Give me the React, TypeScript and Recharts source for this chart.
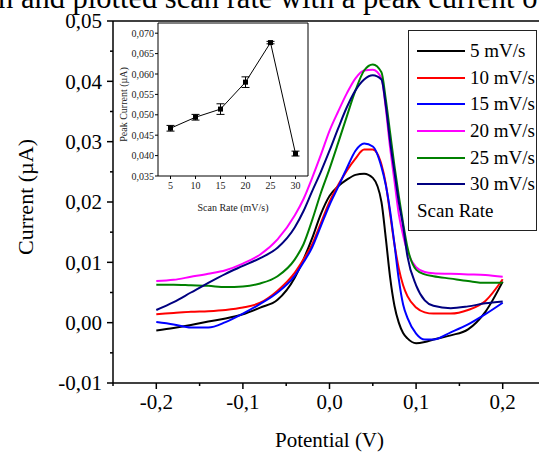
import React from "react";
import { LineChart, Line, XAxis, YAxis, Legend, ReferenceLine, ErrorBar } from "recharts";

// main CV curves: potential (V) vs current (µA)
const potential = [-0.2, -0.18, -0.16, -0.14, -0.12, -0.1, -0.08, -0.06, -0.04, -0.03, -0.02, -0.01, 0, 0.01, 0.02, 0.03, 0.04, 0.05, 0.06, 0.065, 0.07, 0.075, 0.08, 0.085, 0.09, 0.1, 0.11, 0.12, 0.14, 0.16, 0.18, 0.2];
const cv5 = [-0.0013, -0.0009, -0.0004, 0.0002, 0.0007, 0.0014, 0.0025, 0.0038, 0.0075, 0.0105, 0.014, 0.018, 0.021, 0.0226, 0.0237, 0.0245, 0.0247, 0.024, 0.02, 0.014, 0.0075, 0.0028, 0.0, -0.0017, -0.0026, -0.0034, -0.0032, -0.0028, -0.0021, -0.0011, 0.0018, 0.0068];
const cv10 = [0.0014, 0.0016, 0.0018, 0.0019, 0.0021, 0.0025, 0.0033, 0.0053, 0.0083, 0.0105, 0.013, 0.0165, 0.02, 0.0228, 0.0252, 0.0272, 0.0287, 0.0287, 0.0262, 0.023, 0.018, 0.013, 0.009, 0.0062, 0.0044, 0.0025, 0.0017, 0.0015, 0.0015, 0.0021, 0.0036, 0.0072];
const cv15 = [0.0001, -0.0003, -0.0008, -0.0008, 0.0001, 0.0015, 0.0031, 0.005, 0.0078, 0.01, 0.0125, 0.016, 0.0195, 0.0225, 0.0256, 0.0285, 0.0297, 0.0292, 0.0258, 0.0228, 0.0185, 0.013, 0.0072, 0.003, 0.0008, -0.0018, -0.0028, -0.0028, -0.0016, -0.0003, 0.0014, 0.0033];
const cv20 = [0.0069, 0.0071, 0.0076, 0.0081, 0.0087, 0.0098, 0.0113, 0.0138, 0.0178, 0.0205, 0.024, 0.0278, 0.0318, 0.035, 0.038, 0.0405, 0.0418, 0.0419, 0.0405, 0.0355, 0.029, 0.0235, 0.018, 0.0145, 0.0118, 0.0092, 0.0084, 0.0082, 0.0081, 0.008, 0.0079, 0.0076];
const cv25 = [0.0063, 0.0063, 0.0062, 0.0061, 0.0059, 0.006, 0.0065, 0.0077, 0.0105, 0.013, 0.017, 0.0215, 0.0255, 0.0298, 0.0342, 0.0385, 0.0418, 0.0428, 0.0415, 0.037, 0.0315, 0.026, 0.021, 0.0165, 0.0125, 0.0088, 0.008, 0.0077, 0.0073, 0.0069, 0.0066, 0.0066];
const cv30 = [0.0021, 0.0034, 0.005, 0.0066, 0.0081, 0.0094, 0.0107, 0.0124, 0.0158, 0.0185, 0.0218, 0.025, 0.0285, 0.0322, 0.0357, 0.0385, 0.0403, 0.041, 0.0403, 0.036, 0.03, 0.025, 0.02, 0.016, 0.011, 0.0062, 0.0037, 0.0028, 0.0024, 0.0027, 0.0032, 0.0035];

const seriesKeys = ["s5", "s10", "s15", "s20", "s25", "s30"];
const seriesNames = ["5 mV/s", "10 mV/s", "15 mV/s", "20 mV/s", "25 mV/s", "30 mV/s"];
const seriesColors = ["#000000", "#ff0000", "#0000ff", "#ff00ff", "#008000", "#000080"];
const seriesValues = [cv5, cv10, cv15, cv20, cv25, cv30];

const xTicks = [-0.25, -0.2, -0.15, -0.1, -0.05, 0, 0.05, 0.1, 0.15, 0.2, 0.25];
const yTicks = [-0.01, -0.005, 0, 0.005, 0.01, 0.015, 0.02, 0.025, 0.03, 0.035, 0.04, 0.045, 0.05];

// inset: peak current vs scan rate
const scanRates = [5, 10, 15, 20, 25, 30];
const peakCurrent = [0.0467, 0.0494, 0.0514, 0.058, 0.0677, 0.0405];
const peakError = [0.0007, 0.0007, 0.0013, 0.0013, 0.0003, 0.0006];
const insetXTicks = [5, 10, 15, 20, 25, 30];
const insetYTicks = [0.035, 0.04, 0.045, 0.05, 0.055, 0.06, 0.065, 0.07];

const captionText = "n and plotted scan rate with a peak current o";

const SERIF = "'Liberation Serif', 'Times New Roman', serif";

const cvData = potential.map((p, i) => {
  const row: any = { p };
  seriesKeys.forEach((k, j) => (row[k] = seriesValues[j][i]));
  return row;
});

const insetData = scanRates.map((r, i) => ({ rate: r, peak: peakCurrent[i], err: peakError[i] }));

const isMultiple = (v: number, step: number) => Math.abs(v / step - Math.round(v / step)) < 1e-6;

const MainXTick = (props: any) => {
  const { x, y, payload } = props;
  const major = isMultiple(payload.value, 0.1);
  return (
    <g>
      <line x1={x} x2={x} y1={y} y2={y + (major ? 6 : 3)} stroke="#000" strokeWidth={1.5} />
      {major && (
        <text x={x} y={y + 11} dy="0.71em" textAnchor="middle" fontSize={21} fontFamily={SERIF} fill="#000">
          {payload.value.toFixed(1).replace(".", ",")}
        </text>
      )}
    </g>
  );
};

const MainYTick = (props: any) => {
  const { x, y, payload } = props;
  const major = isMultiple(payload.value, 0.01);
  return (
    <g>
      <line x1={x - (major ? 6 : 3)} x2={x} y1={y} y2={y} stroke="#000" strokeWidth={1.5} />
      {major && (
        <text x={x - 11} y={y} dy="0.355em" textAnchor="end" fontSize={21} fontFamily={SERIF} fill="#000">
          {payload.value.toFixed(2).replace(".", ",")}
        </text>
      )}
    </g>
  );
};

const SquareDot = (props: any) => {
  const { cx, cy } = props;
  return <rect x={cx - 2.5} y={cy - 2.5} width={5} height={5} fill="#000" />;
};

const LegendBox = (props: any) => {
  const items = [...(props.payload || [])].sort(
    (a: any, b: any) => seriesNames.indexOf(a.value) - seriesNames.indexOf(b.value)
  );
  return (
    <div
      style={{
        border: "1px solid #222",
        width: 127,
        height: 192,
        boxSizing: "content-box",
        paddingTop: 7,
        fontFamily: SERIF,
        fontSize: 19,
        color: "#000",
      }}
    >
      {items.map((item: any) => (
        <div key={item.value} style={{ display: "flex", alignItems: "center", height: 26.6 }}>
          <div style={{ width: 48, height: 2, background: item.color, marginLeft: 8, marginRight: 5 }} />
          <span style={{ whiteSpace: "nowrap", lineHeight: "20px" }}>{item.value}</span>
        </div>
      ))}
      <div style={{ marginLeft: 8, marginTop: 3, lineHeight: "20px" }}>Scan Rate</div>
    </div>
  );
};

const App = () => {
  return (
    <div
      style={{
        position: "fixed",
        left: 0,
        top: 0,
        width: 539,
        height: 452,
        overflow: "hidden",
        background: "#fff",
      }}
    >
      <svg width={539} height={30} style={{ position: "absolute", left: 0, top: 0 }}>
        <text x={-2} y={7.5} fontSize={30.5} fontFamily={SERIF} fill="#000">
          {captionText}
        </text>
      </svg>

      <div style={{ position: "absolute", left: 0, top: 0 }}>
        <LineChart width={600} height={452} data={cvData} margin={{ top: 21, right: 54, bottom: 0, left: 0 }}>
          <XAxis
            dataKey="p"
            type="number"
            domain={[-0.25, 0.25]}
            ticks={xTicks}
            interval={0}
            allowDataOverflow
            height={69}
            tickSize={0}
            tickMargin={0}
            tickLine={false}
            tick={<MainXTick />}
            axisLine={{ stroke: "#000", strokeWidth: 1.5 }}
            label={{ value: "Potential (V)", position: "insideBottom", offset: 5, fontSize: 21, fontFamily: SERIF, fill: "#000" }}
          />
          <YAxis
            type="number"
            domain={[-0.01, 0.05]}
            ticks={yTicks}
            interval={0}
            allowDataOverflow
            width={113}
            tickSize={0}
            tickMargin={0}
            tickLine={false}
            tick={<MainYTick />}
            axisLine={{ stroke: "#000", strokeWidth: 1.5 }}
            label={(p: any) => {
              const vb = p.viewBox || { x: 0, y: 21, height: 362 };
              const cx = vb.x + 25;
              const cy = vb.y + vb.height / 2 - 5;
              return (
                <text
                  x={cx}
                  y={cy}
                  transform={`rotate(-90 ${cx} ${cy})`}
                  textAnchor="middle"
                  dominantBaseline="central"
                  fontSize={22}
                  fontFamily={SERIF}
                  fill="#000"
                >
                  Current (µA)
                </text>
              );
            }}
          />
          <ReferenceLine y={0.05} stroke="#000" strokeWidth={1.5} />
          <Legend
            layout="vertical"
            align="center"
            verticalAlign="middle"
            wrapperStyle={{ left: 408, top: 30, width: "auto", height: "auto" }}
            content={<LegendBox />}
          />
          {seriesKeys.map((k, i) => (
            <Line
              key={k}
              dataKey={k}
              name={seriesNames[i]}
              type="monotone"
              stroke={seriesColors[i]}
              strokeWidth={2}
              dot={false}
              isAnimationActive={false}
            />
          ))}
        </LineChart>
      </div>

      <div style={{ position: "absolute", left: 108, top: 18 }}>
        <LineChart width={202} height={205} data={insetData} margin={{ top: 5, right: 2, bottom: 0, left: 0 }}>
          <XAxis
            dataKey="rate"
            type="number"
            domain={[2.5, 32.5]}
            ticks={insetXTicks}
            interval={0}
            height={47}
            tickSize={3}
            tickMargin={3}
            tick={{ fontSize: 10, fontFamily: SERIF, fill: "#222" }}
            tickLine={{ stroke: "#000" }}
            axisLine={{ stroke: "#000" }}
            label={{ value: "Scan Rate (mV/s)", position: "insideBottom", offset: 12, fontSize: 10, fontFamily: SERIF, fill: "#222" }}
          />
          <YAxis
            type="number"
            domain={[0.035, 0.0725]}
            ticks={insetYTicks}
            interval={0}
            allowDataOverflow
            width={50}
            tickSize={3}
            tickMargin={1}
            tick={{ fontSize: 10, fontFamily: SERIF, fill: "#222" }}
            tickFormatter={(v: number) => v.toFixed(3).replace(".", ",")}
            tickLine={{ stroke: "#000" }}
            axisLine={{ stroke: "#000" }}
            label={(p: any) => {
              const vb = p.viewBox || { x: 0, y: 5, height: 153 };
              const cx = vb.x + 15;
              const cy = vb.y + vb.height / 2 + 5;
              return (
                <text
                  x={cx}
                  y={cy}
                  transform={`rotate(-90 ${cx} ${cy})`}
                  textAnchor="middle"
                  dominantBaseline="central"
                  fontSize={10}
                  fontFamily={SERIF}
                  fill="#222"
                >
                  Peak Current (µA)
                </text>
              );
            }}
          />
          <ReferenceLine y={0.0725} stroke="#000" />
          <ReferenceLine x={32.5} stroke="#000" />
          <Line
            dataKey="peak"
            type="linear"
            stroke="#000"
            strokeWidth={1}
            dot={<SquareDot />}
            isAnimationActive={false}
          >
            <ErrorBar dataKey="err" direction="y" width={4} stroke="#000" strokeWidth={1} />
          </Line>
        </LineChart>
      </div>
    </div>
  );
};

export default App;
